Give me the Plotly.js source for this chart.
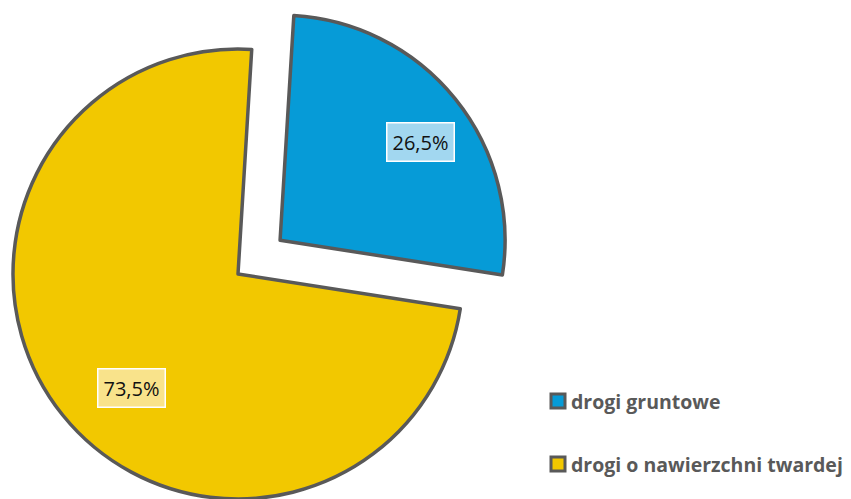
<!DOCTYPE html>
<html>
<head>
<meta charset="utf-8">
<script src="https://cdn.plot.ly/plotly-3.0.1.min.js"></script>
<style>
html, body { margin: 0; padding: 0; background: #ffffff; overflow: hidden; }
#wrap { position: relative; width: 851px; height: 499px; overflow: hidden; }
#chart { position: absolute; left: -41px; top: -5px; }
</style>
</head>
<body>
<div id="wrap"><div id="chart"></div></div>
<script>
// ---- data ----
const categories = ["drogi gruntowe", "drogi o nawierzchni twardej"];
const shares = [26.5, 73.5];
const sliceColors = ["#069BD7", "#F2C800"];
const labelFills = ["#A2D7F0", "#F9E38B"];
const pulls = [0.24, 0];

// ---- geometry of the (over-sized, shifted) plotting div ----
const OFF_X = -41, OFF_Y = -5;
const W = 851 - OFF_X, H = 558;
const PIE_BOX = 558;
function px(x) { return (x - OFF_X) / W; }
function py(y) { return 1 - (y - OFF_Y) / H; }

function fmt(v) { return v.toFixed(1).replace('.', ',') + '%'; }

const trace = {
  type: 'pie',
  labels: categories,
  values: shares,
  sort: false,
  direction: 'clockwise',
  rotation: 3.5,
  pull: pulls,
  textinfo: 'none',
  hoverinfo: 'label+percent',
  marker: { colors: sliceColors, line: { color: '#595959', width: 3.5 } },
  domain: { x: [0, PIE_BOX / W], y: [0, 1] },
  showlegend: false
};

// data labels (boxes) placed near each slice
const labelPos = [[420, 142], [131, 388]];
const annotations = categories.map((c, i) => ({
  xref: 'paper', yref: 'paper',
  x: px(labelPos[i][0]), y: py(labelPos[i][1]),
  xanchor: 'center', yanchor: 'middle',
  text: fmt(shares[i]),
  showarrow: false,
  font: { family: 'Open Sans, sans-serif', size: 20, color: '#111111' },
  bgcolor: labelFills[i],
  bordercolor: '#ffffff', borderwidth: 1.5, borderpad: 5
}));

// legend (right side)
const legendY = [401, 464];
const shapes = [];
categories.forEach((c, i) => {
  annotations.push({
    xref: 'paper', yref: 'paper',
    x: px(569), y: py(legendY[i]),
    xanchor: 'left', yanchor: 'middle',
    text: '<b>' + c + '</b>',
    showarrow: false,
    font: { family: 'Open Sans, sans-serif', size: 19.5, color: '#595959' }
  });
  shapes.push({
    type: 'rect', xref: 'paper', yref: 'paper',
    x0: px(551), x1: px(565),
    y0: py(legendY[i] - 7), y1: py(legendY[i] + 7),
    fillcolor: sliceColors[i],
    line: { color: '#595959', width: 3 }
  });
});

const layout = {
  width: W, height: H,
  margin: { l: 0, r: 0, t: 0, b: 0 },
  paper_bgcolor: '#ffffff',
  showlegend: false,
  annotations: annotations,
  shapes: shapes
};

Plotly.newPlot('chart', [trace], layout, { displayModeBar: false, staticPlot: true });
</script>
</body>
</html>
